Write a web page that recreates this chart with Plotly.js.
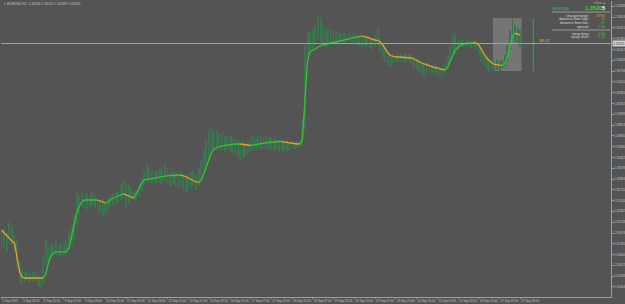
<!DOCTYPE html>
<html><head><meta charset="utf-8">
<script src="https://cdn.plot.ly/plotly-3.0.1.min.js"></script>
<style>html,body{margin:0;padding:0;background:#545454;}#chart{width:625px;height:304px;}</style>
</head><body><div id="chart"></div>
<script>
// ---------- data ----------
const symbolTitle = 'EURUSD,H1';
const quote = [1.35204, 1.35225, 1.35189, 1.35205];
const high = [
1.31991,1.32060,1.31974,1.32162,1.32094,1.31940,1.31855,1.31480,1.31344,1.31310,
1.31344,1.31293,1.31310,1.31344,1.31276,1.31242,1.31600,1.31855,1.31770,1.31804,
1.31787,1.31855,1.31770,1.31821,1.31804,1.31855,1.32026,1.32111,1.32281,1.32708,
1.32622,1.32674,1.32622,1.32657,1.32605,1.32674,1.32622,1.32588,1.32537,1.32554,
1.32503,1.32571,1.32622,1.32657,1.32674,1.32708,1.32793,1.32878,1.32844,1.32793,
1.32742,1.32674,1.32708,1.32793,1.32912,1.33014,1.33134,1.33083,1.33049,1.33014,
1.33049,1.33083,1.33049,1.33134,1.33083,1.33014,1.33049,1.32997,1.32963,1.33014,
1.32980,1.32946,1.32963,1.33014,1.33049,1.32980,1.33083,1.33219,1.33390,1.33560,
1.33731,1.33765,1.33697,1.33731,1.33662,1.33680,1.33628,1.33645,1.33611,1.33628,
1.33594,1.33560,1.33526,1.33560,1.33509,1.33543,1.33594,1.33628,1.33594,1.33628,
1.33645,1.33611,1.33645,1.33594,1.33611,1.33577,1.33594,1.33560,1.33577,1.33543,
1.33560,1.33526,1.33543,1.33526,1.33543,1.33560,1.33901,1.35180,1.35401,1.35436,
1.35470,1.35521,1.35691,1.35640,1.35521,1.35470,1.35436,1.35453,1.35436,1.35401,
1.35418,1.35384,1.35401,1.35367,1.35384,1.35350,1.35384,1.35350,1.35333,1.35350,
1.35299,1.35333,1.35316,1.35299,1.35350,1.35470,1.35299,1.35180,1.35129,1.35060,
1.35009,1.35026,1.35009,1.35043,1.35026,1.35009,1.35043,1.35026,1.35009,1.34975,
1.34958,1.34924,1.34890,1.34856,1.34890,1.34873,1.34839,1.34856,1.34822,1.34805,
1.34839,1.34890,1.35009,1.35180,1.35350,1.35384,1.35299,1.35265,1.35265,1.35248,
1.35265,1.35248,1.35265,1.35231,1.35180,1.35129,1.35060,1.35009,1.34958,1.34924,
1.34890,1.34924,1.34907,1.34924,1.35009,1.35180,1.35436,1.35640,1.35521,1.35470,
1.35436];
const low = [
1.31685,1.31719,1.31651,1.31855,1.31787,1.31685,1.31378,1.31139,1.31105,1.31139,
1.31173,1.31122,1.31139,1.31156,1.31071,1.31020,1.31088,1.31429,1.31480,1.31548,
1.31565,1.31600,1.31548,1.31582,1.31600,1.31617,1.31685,1.31770,1.31855,1.32111,
1.32281,1.32418,1.32401,1.32367,1.32418,1.32435,1.32401,1.32367,1.32316,1.32264,
1.32298,1.32333,1.32418,1.32452,1.32469,1.32486,1.32537,1.32571,1.32418,1.32469,
1.32537,1.32537,1.32554,1.32588,1.32674,1.32793,1.32878,1.32844,1.32827,1.32793,
1.32844,1.32827,1.32793,1.32844,1.32793,1.32759,1.32810,1.32776,1.32742,1.32776,
1.32708,1.32674,1.32708,1.32742,1.32776,1.32708,1.32793,1.32878,1.33014,1.33134,
1.33219,1.33390,1.33424,1.33390,1.33424,1.33390,1.33355,1.33390,1.33355,1.33338,
1.33321,1.33287,1.33219,1.33253,1.33270,1.33304,1.33355,1.33390,1.33390,1.33424,
1.33390,1.33407,1.33424,1.33390,1.33407,1.33372,1.33390,1.33355,1.33390,1.33355,
1.33372,1.33390,1.33424,1.33407,1.33424,1.33441,1.33458,1.33731,1.34924,1.35060,
1.35129,1.35180,1.35265,1.35231,1.35180,1.35146,1.35180,1.35197,1.35231,1.35197,
1.35231,1.35231,1.35214,1.35231,1.35248,1.35214,1.35197,1.35180,1.35163,1.35129,
1.35146,1.35163,1.35129,1.35095,1.35146,1.35180,1.35060,1.34958,1.34890,1.34839,
1.34822,1.34873,1.34890,1.34907,1.34890,1.34873,1.34890,1.34924,1.34856,1.34788,
1.34754,1.34719,1.34685,1.34634,1.34702,1.34719,1.34685,1.34702,1.34634,1.34651,
1.34668,1.34685,1.34754,1.34890,1.35009,1.35095,1.35095,1.35129,1.35146,1.35163,
1.35146,1.35129,1.35146,1.35095,1.35009,1.34890,1.34839,1.34754,1.34719,1.34754,
1.34736,1.34754,1.34736,1.34788,1.34822,1.34890,1.35095,1.35265,1.35231,1.35180,
1.35146];
const ma = [
1.32026,1.31974,1.31923,1.31872,1.31838,1.31804,1.31548,1.31310,1.31224,1.31207,
1.31207,1.31207,1.31207,1.31207,1.31207,1.31207,1.31207,1.31259,1.31446,1.31582,
1.31634,1.31651,1.31651,1.31651,1.31651,1.31651,1.31719,1.31923,1.32128,1.32316,
1.32435,1.32503,1.32537,1.32537,1.32537,1.32537,1.32537,1.32537,1.32520,1.32503,
1.32486,1.32503,1.32537,1.32571,1.32588,1.32605,1.32622,1.32640,1.32622,1.32605,
1.32588,1.32571,1.32640,1.32725,1.32827,1.32878,1.32887,1.32895,1.32904,1.32912,
1.32921,1.32929,1.32938,1.32946,1.32946,1.32955,1.32955,1.32963,1.32963,1.32963,
1.32955,1.32938,1.32912,1.32887,1.32861,1.32844,1.32836,1.32878,1.32980,1.33117,
1.33253,1.33355,1.33407,1.33432,1.33449,1.33458,1.33466,1.33475,1.33483,1.33483,
1.33492,1.33492,1.33492,1.33483,1.33475,1.33466,1.33466,1.33475,1.33483,1.33492,
1.33500,1.33509,1.33517,1.33517,1.33526,1.33526,1.33534,1.33534,1.33534,1.33526,
1.33517,1.33509,1.33500,1.33492,1.33492,1.33492,1.33560,1.34242,1.34924,1.35060,
1.35095,1.35112,1.35146,1.35163,1.35180,1.35197,1.35205,1.35214,1.35222,1.35231,
1.35248,1.35256,1.35265,1.35274,1.35282,1.35299,1.35308,1.35316,1.35325,1.35333,
1.35325,1.35308,1.35291,1.35274,1.35265,1.35256,1.35231,1.35180,1.35112,1.35043,
1.35000,1.34984,1.34975,1.34975,1.34972,1.34970,1.34968,1.34967,1.34958,1.34941,
1.34916,1.34890,1.34873,1.34856,1.34839,1.34822,1.34805,1.34796,1.34788,1.34771,
1.34762,1.34754,1.34805,1.34907,1.35009,1.35095,1.35146,1.35180,1.35197,1.35205,
1.35214,1.35214,1.35217,1.35214,1.35180,1.35095,1.35026,1.34958,1.34907,1.34873,
1.34848,1.34839,1.34835,1.34834,1.34856,1.34975,1.35180,1.35333,1.35384,1.35367,
1.35350];
const lastPrice = 1.35205;
const sessionStart = 190;
const timeLabels = ['5 Sep 2013','5 Sep 23:00','6 Sep 15:00','9 Sep 07:00','9 Sep 23:00','10 Sep 15:00',
 '11 Sep 07:00','11 Sep 23:00','12 Sep 15:00','13 Sep 07:00','13 Sep 23:00','16 Sep 15:00','17 Sep 07:00',
 '17 Sep 23:00','18 Sep 15:00','19 Sep 07:00','19 Sep 23:00','20 Sep 15:00','23 Sep 07:00','23 Sep 23:00',
 '24 Sep 15:00','25 Sep 07:00','25 Sep 23:00','26 Sep 15:00','27 Sep 07:00','27 Sep 23:00'];
const barsPerLabel = 8;
const priceTicks = [1.30870,1.31054,1.31238,1.31422,1.31606,1.31790,1.31974,1.32158,1.32342,1.32526,
 1.32710,1.32894,1.33078,1.33262,1.33446,1.33630,1.33814,1.33998,1.34182,1.34366,1.34550,1.34734,
 1.34918,1.35102,1.35286,1.35470,1.35654,1.35838];
const panelLabels = ['change/range :','distance from high :','distance from low :','spread :','swap long :','swap short :'];
const panelValues = ['33/90','43','47','2.90','0.60','-1.30'];
const panelSymbol = 'EURUSD';
const panelHeader = 'eGun \u25B2';
const timerText = '38:12';

// ---------- build ----------
const N = high.length;
const idx = high.map((_, i) => i);
const dayHigh = Math.max(...high.slice(sessionStart));
const dayLow = Math.min(...low.slice(sessionStart));

const BG = '#545454';
const W = 625, H = 304, ML = 1, MR = 14, MT = 1, MB = 7;
const PW = W - ML - MR, PH = H - MT - MB;
const px = p => (p - ML) / PW;
const py = p => 1 - (p - MT) / PH;

// MA colour runs: rising -> green, falling -> orange
const upState = []; let st = false;
for (let i = 0; i < ma.length; i++) {
  if (i > 0) { if (ma[i] > ma[i-1]) st = true; else if (ma[i] < ma[i-1]) st = false; }
  upState.push(st);
}
const gx = [], gy = [], ox = [], oy = [];
let cur = null;
for (let i = 1; i < ma.length; i++) {
  const c = upState[i];
  const X = c ? gx : ox, Y = c ? gy : oy;
  if (c !== cur) { X.push(null); Y.push(null); X.push(i-1); Y.push(ma[i-1]); cur = c; }
  X.push(i); Y.push(ma[i]);
}

const traces = [
  { type: 'bar', x: idx, base: low, y: high.map((h, i) => h - low[i]), width: 0.75,
    marker: { color: '#3a7550', line: { width: 0 } }, hoverinfo: 'skip' },
  { type: 'scatter', mode: 'lines', x: gx, y: gy, connectgaps: false,
    line: { color: '#35c435', width: 1.3 }, hoverinfo: 'skip' },
  { type: 'scatter', mode: 'lines', x: ox, y: oy, connectgaps: false,
    line: { color: '#eea020', width: 1.3 }, hoverinfo: 'skip' },
  { type: 'scatter', mode: 'lines', x: [N - 1 + 5, N - 1 + 5], y: [dayHigh, dayLow],
    line: { color: '#2aa84a', width: 1 }, hoverinfo: 'skip' }
];

const FONT = 'Liberation Sans, Arial, sans-serif';
const annotations = [];
annotations.push({ xref: 'paper', yref: 'paper', x: px(2), y: py(4.2), xanchor: 'left', yanchor: 'middle',
  text: '\u25BE ' + symbolTitle + '  ' + quote.map(v => v.toFixed(5)).join(' '), showarrow: false,
  font: { family: FONT, size: 3.4, color: '#c4c4c4' } });
// current price label on axis
annotations.push({ xref: 'paper', yref: 'y', x: 1, y: lastPrice, xanchor: 'left', yanchor: 'middle', xshift: 1,
  text: lastPrice.toFixed(5), showarrow: false, bgcolor: '#cfcfcf', borderpad: 0.5,
  font: { family: FONT, size: 3.0, color: '#3a3a3a' } });
// timer
annotations.push({ xref: 'x', yref: 'y', x: N - 1 + 6.5, y: lastPrice, xanchor: 'left', yanchor: 'bottom', yshift: -1,
  text: timerText, showarrow: false, font: { family: FONT, size: 4.2, color: '#d9c21c' } });
// panel
annotations.push({ xref: 'paper', yref: 'paper', x: px(608), y: py(2.8), xanchor: 'right', yanchor: 'middle',
  text: panelHeader, showarrow: false, font: { family: FONT, size: 3.2, color: '#b8b8b8' } });
annotations.push({ xref: 'paper', yref: 'paper', x: px(551), y: py(8), xanchor: 'left', yanchor: 'middle',
  text: panelSymbol, showarrow: false, font: { family: FONT, size: 4, color: '#3fcf3f' } });
const ps = lastPrice.toFixed(5);
annotations.push({ xref: 'paper', yref: 'paper', x: px(607), y: py(8), xanchor: 'right', yanchor: 'middle',
  text: '<b>' + ps.slice(0, -1) + '<span style="color:#ffffff">' + ps.slice(-1) + '</span></b>', showarrow: false,
  font: { family: FONT, size: 5.6, color: '#36dd36' } });
const rowY = [15.5, 19.3, 23, 26.6, 33.6, 37.2];
panelLabels.forEach((t, k) => {
  annotations.push({ xref: 'paper', yref: 'paper', x: px(592), y: py(rowY[k]), xanchor: 'right', yanchor: 'middle',
    text: t, showarrow: false, font: { family: FONT, size: 3.6, color: '#dcdcdc' } });
  annotations.push({ xref: 'paper', yref: 'paper', x: px(607), y: py(rowY[k]), xanchor: 'right', yanchor: 'middle',
    text: panelValues[k], showarrow: false,
    font: { family: FONT, size: 3.6, color: k === 0 ? '#e8901a' : '#33cc33' } });
});

const shapes = [
  { type: 'rect', xref: 'x', yref: 'y', x0: sessionStart - 0.5, x1: N - 0.5, y0: dayLow, y1: dayHigh,
    fillcolor: 'rgba(205,205,205,0.28)', line: { width: 0 }, layer: 'below' },
  { type: 'line', xref: 'paper', yref: 'y', x0: 0, x1: 1, y0: lastPrice, y1: lastPrice,
    line: { color: '#a2a2a2', width: 1 }, layer: 'above' },
  { type: 'line', xref: 'paper', yref: 'paper', x0: px(552), x1: px(610), y0: py(12), y1: py(12),
    line: { color: '#9a9a9a', width: 1 } },
  { type: 'line', xref: 'paper', yref: 'paper', x0: px(552), x1: px(610), y0: py(30), y1: py(30),
    line: { color: '#9a9a9a', width: 1 } }
];

// hide axis labels that collide with the current price label
const shownTicks = priceTicks.filter(v => Math.abs(v - lastPrice) > 0.0008);

const layout = {
  width: W, height: H,
  margin: { l: ML, r: MR, t: MT, b: MB, pad: 0 },
  paper_bgcolor: BG, plot_bgcolor: BG,
  showlegend: false, hovermode: false, bargap: 0,
  xaxis: {
    range: [-0.19, 234.97], showgrid: false, zeroline: false,
    showline: true, linecolor: '#9c9c9c', linewidth: 1,
    tickvals: timeLabels.map((_, k) => k * barsPerLabel), ticktext: timeLabels,
    ticks: 'outside', ticklen: 1, tickcolor: '#9c9c9c', tickwidth: 1, tickangle: 0,
    ticklabelposition: 'outside right',
    tickfont: { family: FONT, size: 3.0, color: '#c6c6c6' }, automargin: false
  },
  yaxis: {
    side: 'right', range: [1.30883, 1.35930], showgrid: false, zeroline: false,
    showline: true, linecolor: '#9c9c9c', linewidth: 1,
    tickvals: shownTicks, ticktext: shownTicks.map(v => v.toFixed(5)),
    ticks: 'outside', ticklen: 1.5, tickcolor: '#9c9c9c', tickwidth: 1,
    tickfont: { family: FONT, size: 3.0, color: '#c6c6c6' }, automargin: false
  },
  annotations, shapes
};

Plotly.newPlot('chart', traces, layout, { staticPlot: true, displayModeBar: false });
</script>
</body></html>
